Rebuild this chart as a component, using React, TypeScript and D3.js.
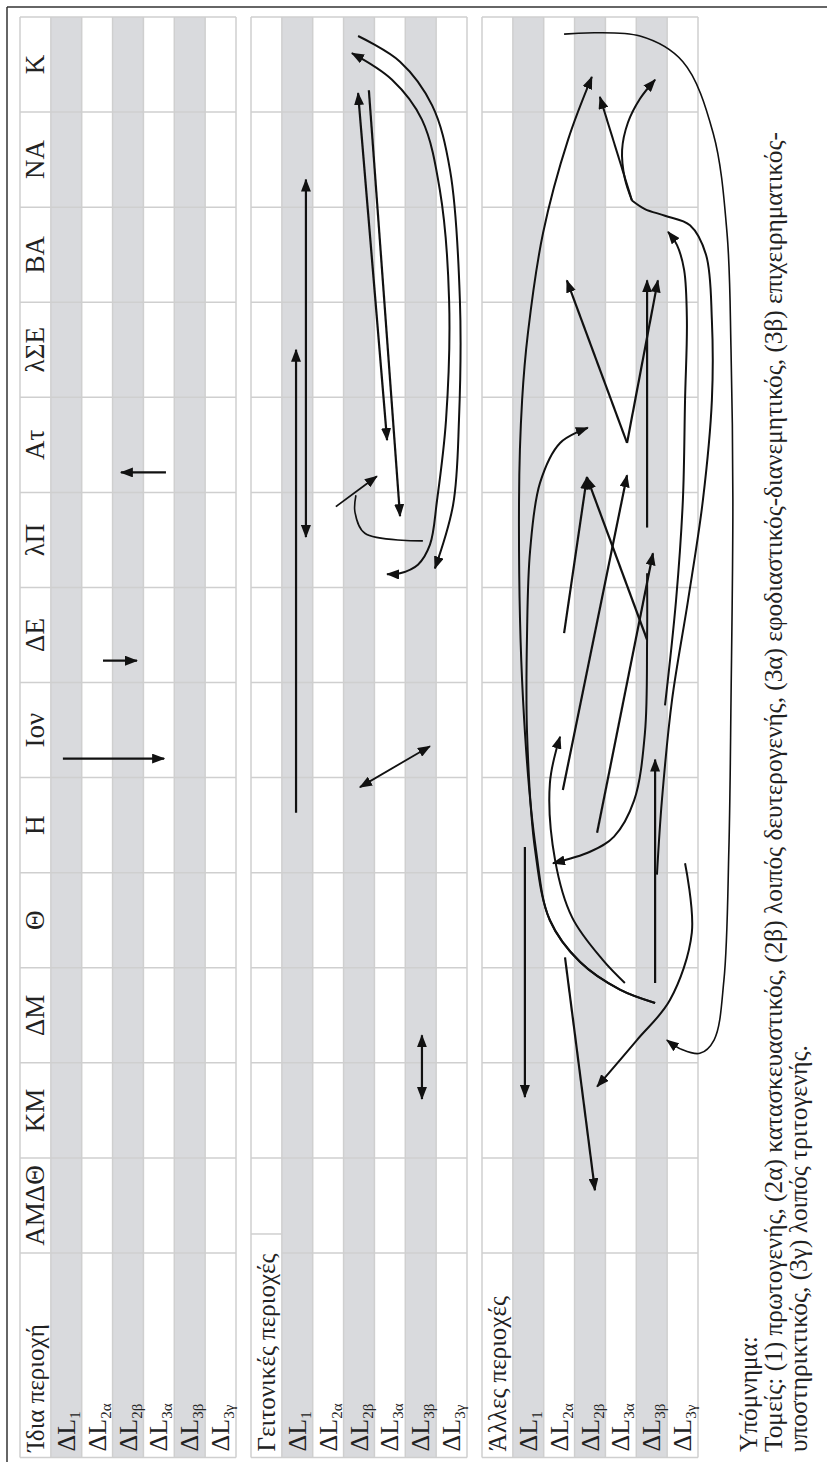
import React from 'react';
import * as d3 from 'd3';

const sectors = ["ΑΜΔΘ", "ΚΜ", "ΔΜ", "Θ", "Η", "Ιον", "ΔΕ", "λΠ", "Ατ", "λΣΕ", "ΒΑ", "ΝΑ", "Κ"];
const groups = ["Ίδια περιοχή", "Γειτονικές περιοχές", "Άλλες περιοχές"];
const headerCellTop = [0, 0.2, 0];
const rowSubs = ["1", "2α", "2β", "3α", "3β", "3γ"];
const shadedRows = [true, false, true, false, true, false];
const legendLines = [
  "Υπόμνημα:",
  "Τομείς: (1) πρωτογενής, (2α) κατασκευαστικός, (2β) λοιπός δευτερογενής, (3α) εφοδιαστικός-διανεμητικός, (3β) επιχειρηματικός-",
  "υποστηρικτικός, (3γ) λοιπός τριτογενής.",
];

type Flow = { pts: [number, number][]; head: 'end' | 'both' | 'none'; w?: number };

// points are [row position within group, sector position] (row 0 = header strip, sector 0 = bottom of ΑΜΔΘ)
const ownFlows: Flow[] = [
  { pts: [[1.39, 5.2], [4.67, 5.2]], head: 'end' },
  { pts: [[2.69, 6.23], [3.79, 6.23]], head: 'end' },
  { pts: [[4.73, 8.21], [3.27, 8.21]], head: 'end' },
];

const neighbourFlows: Flow[] = [
  { pts: [[1.46, 4.63], [1.46, 9.5]], head: 'end' },
  { pts: [[1.78, 7.53], [1.78, 11.29]], head: 'both' },
  { pts: [[3.47, 12.2], [4.41, 8.55]], head: 'both' },
  { pts: [[3.82, 12.23], [4.83, 7.75]], head: 'end' },
  { pts: [[3.47, 12.8], [4.83, 12.53], [5.87, 12.07], [6.45, 11.39], [6.77, 10.02], [6.74, 8.76], [6.55, 7.87], [5.96, 7.2]], head: 'end', w: 2 },
  { pts: [[3.27, 12.62], [4.57, 12.34], [5.54, 11.92], [6.12, 11.18], [6.42, 10.02], [6.32, 8.76], [6.03, 7.92], [5.8, 7.45], [5.41, 7.24], [4.83, 7.15], [4.41, 7.14]], head: 'both', w: 2 },
  { pts: [[2.75, 7.85], [4.08, 8.17]], head: 'end', w: 1.8 },
  { pts: [[5.57, 7.49], [3.69, 7.57], [3.37, 7.79], [3.4, 7.97]], head: 'none', w: 1.6 },
  { pts: [[3.53, 4.9], [5.8, 5.33]], head: 'both', w: 1.8 },
  { pts: [[5.54, 2.29], [5.54, 1.62]], head: 'both' },
];

const otherFlows: Flow[] = [
  { pts: [[2.66, 12.82], [5.12, 12.8], [6.51, 12.53], [7.49, 11.78], [7.94, 10.73], [8.07, 9.5], [8.13, 7.92], [8.07, 5.82], [8.0, 4.24], [7.84, 2.87], [7.52, 2.24], [7.06, 2.1], [6.48, 2.14], [5.99, 2.24]], head: 'end', w: 1.6 },
  { pts: [[5.61, 2.63], [4.47, 2.77], [3.18, 3.06], [2.2, 3.5], [1.75, 4.24], [1.33, 5.82], [1.2, 7.92], [1.3, 8.97], [1.49, 9.68], [1.98, 10.73], [2.79, 11.71], [3.56, 12.37]], head: 'end', w: 2 },
  { pts: [[5.61, 2.63], [4.47, 2.77], [3.18, 3.06], [2.2, 3.5], [1.72, 4.24], [1.46, 5.47], [1.46, 6.52], [1.56, 7.39], [1.88, 8.1], [2.53, 8.52], [3.43, 8.68]], head: 'end', w: 2 },
  // long path from ΔL3β (Η) up the right side, over to the Κ branches
  { pts: [[5.67, 3.98], [5.83, 4.76], [6.16, 5.82], [6.68, 6.87], [7.16, 7.92], [7.45, 8.97], [7.45, 9.81], [7.26, 10.5], [6.74, 10.81], [5.93, 10.91], [5.28, 10.98], [4.86, 11.07]], head: 'none', w: 2 },
  { pts: [[4.86, 11.07], [3.82, 12.16]], head: 'end', w: 2 },
  { pts: [[4.86, 11.07], [4.63, 11.3], [4.54, 11.6], [4.73, 11.89], [5.12, 12.14], [5.61, 12.34]], head: 'end', w: 2 },
  // ΔL3β (Ιον) up to ΒΑ
  { pts: [[5.93, 5.76], [6.29, 6.87], [6.51, 7.92], [6.58, 8.97], [6.64, 9.81], [6.55, 10.34], [6.32, 10.6], [6.03, 10.74]], head: 'end', w: 2 },
  { pts: [[4.7, 8.52], [2.75, 10.23]], head: 'end' },
  { pts: [[4.7, 8.52], [5.7, 10.23]], head: 'end' },
  { pts: [[5.35, 7.63], [5.35, 10.23]], head: 'end' },
  { pts: [[2.66, 6.52], [3.4, 8.16]], head: 'end' },
  { pts: [[5.35, 6.45], [3.4, 8.16]], head: 'end' },
  { pts: [[2.62, 4.87], [4.7, 8.18]], head: 'end' },
  { pts: [[3.73, 4.42], [5.54, 7.36]], head: 'end' },
  { pts: [[5.35, 7.15], [5.35, 6.45], [5.28, 5.47], [4.93, 4.76], [4.28, 4.38], [3.5, 4.22], [2.3, 4.1]], head: 'end', w: 2 },
  { pts: [[4.63, 2.84], [3.92, 3.08], [2.92, 3.53], [2.37, 4.13], [2.2, 4.94], [2.53, 5.43]], head: 'end', w: 2 },
  { pts: [[1.39, 4.27], [1.39, 1.64]], head: 'end' },
  { pts: [[2.69, 3.11], [3.66, 0.66]], head: 'end' },
  { pts: [[6.58, 4.1], [6.8, 3.37], [6.09, 2.66], [5.02, 2.24], [3.73, 1.75]], head: 'end', w: 2 },
  { pts: [[5.61, 2.84], [5.61, 5.19]], head: 'end' },
];

const flowsByGroup = [ownFlows, neighbourFlows, otherFlows];

const W = 827;
const H = 1462;
const FONT = "'Liberation Serif', 'Times New Roman', serif";

export default function App() {
  const groupStart = d3.scaleLinear().domain([0, 1]).range([20, 251]);
  const sectorY = d3.scaleLinear().domain([0, 13]).range([1253, 17]);
  const tableBottom = sectorY(-2.15);
  const rowScale = (g: number) => d3.scaleLinear().domain([0, 7]).range([groupStart(g), groupStart(g) + 216]);
  const gridColor = '#cfcfcf';

  return (
    <svg width={W} height={H} style={{ position: 'absolute', left: 0, top: 0, background: '#fff' }} fontFamily={FONT}>
      <defs>
        <marker id="ah" viewBox="0 0 13 10" refX="12" refY="5" markerWidth="13" markerHeight="10" markerUnits="userSpaceOnUse" orient="auto-start-reverse">
          <path d="M0,0 L13,5 L0,10 z" fill="#111" />
        </marker>
      </defs>
      <rect x={0} y={0} width={W} height={H} fill="#fff" />
      <line x1={7} y1={7} x2={W} y2={7} stroke="#333" strokeWidth={1.5} />
      <line x1={7} y1={7} x2={7} y2={H} stroke="#333" strokeWidth={1.5} />

      {groups.map((gname, g) => {
        const rx = rowScale(g);
        return (
          <g key={gname}>
            {shadedRows.map((sh, i) => sh ? (
              <rect key={i} x={rx(i + 1)} y={sectorY(13)} width={rx(i + 2) - rx(i + 1)} height={tableBottom - sectorY(13)} fill="#d9dadd" />
            ) : null)}
            {d3.range(0, 14).map((k) => (
              <line key={'h' + k} x1={k === 0 ? rx(1) : rx(0)} x2={rx(7)} y1={sectorY(k)} y2={sectorY(k)} stroke={gridColor} strokeWidth={1.5} />
            ))}
            <line x1={rx(0)} x2={rx(1)} y1={sectorY(headerCellTop[g])} y2={sectorY(headerCellTop[g])} stroke={gridColor} strokeWidth={1.5} />
            <line x1={rx(0)} x2={rx(7)} y1={tableBottom} y2={tableBottom} stroke={gridColor} strokeWidth={1.5} />
            {d3.range(0, 8).map((k) => (
              <line key={'v' + k} x1={rx(k)} x2={rx(k)} y1={sectorY(13)} y2={tableBottom} stroke={gridColor} strokeWidth={1.5} />
            ))}
            <text transform={`translate(${rx(0) + 24},${tableBottom - 6}) rotate(-90)`} fontSize={25} fill="#222">{gname}</text>
            {rowSubs.map((sub, i) => (
              <text key={sub} transform={`translate(${rx(i + 1) + 24},${tableBottom - 6}) rotate(-90)`} fontSize={26} fill="#222">
                ΔL<tspan fontSize={15} dy={5}>{sub}</tspan>
              </text>
            ))}
            {g === 0 && sectors.map((s, i) => (
              <text key={s} transform={`translate(${rx(0) + 24},${sectorY(i + 0.5)}) rotate(-90)`} fontSize={27} textAnchor="middle" fill="#222">{s}</text>
            ))}
          </g>
        );
      })}

      {flowsByGroup.map((flows, g) => {
        const rx = rowScale(g);
        return (
          <g key={'f' + g}>
            {flows.map((f, i) => {
              const line = d3.line<[number, number]>()
                .x((d) => rx(d[0]))
                .y((d) => sectorY(d[1]))
                .curve(f.pts.length > 2 ? d3.curveCatmullRom.alpha(0.5) : d3.curveLinear);
              return (
                <path key={i} d={line(f.pts) || ''} fill="none" stroke="#111" strokeWidth={f.w ?? 2.2}
                  markerEnd={f.head !== 'none' ? 'url(#ah)' : undefined}
                  markerStart={f.head === 'both' ? 'url(#ah)' : undefined} />
              );
            })}
          </g>
        );
      })}

      {legendLines.map((t, i) => (
        <text key={i} transform={`translate(${757 + i * 25},1452) rotate(-90)`} fontSize={25.3} fill="#222">{t}</text>
      ))}
    </svg>
  );
}
